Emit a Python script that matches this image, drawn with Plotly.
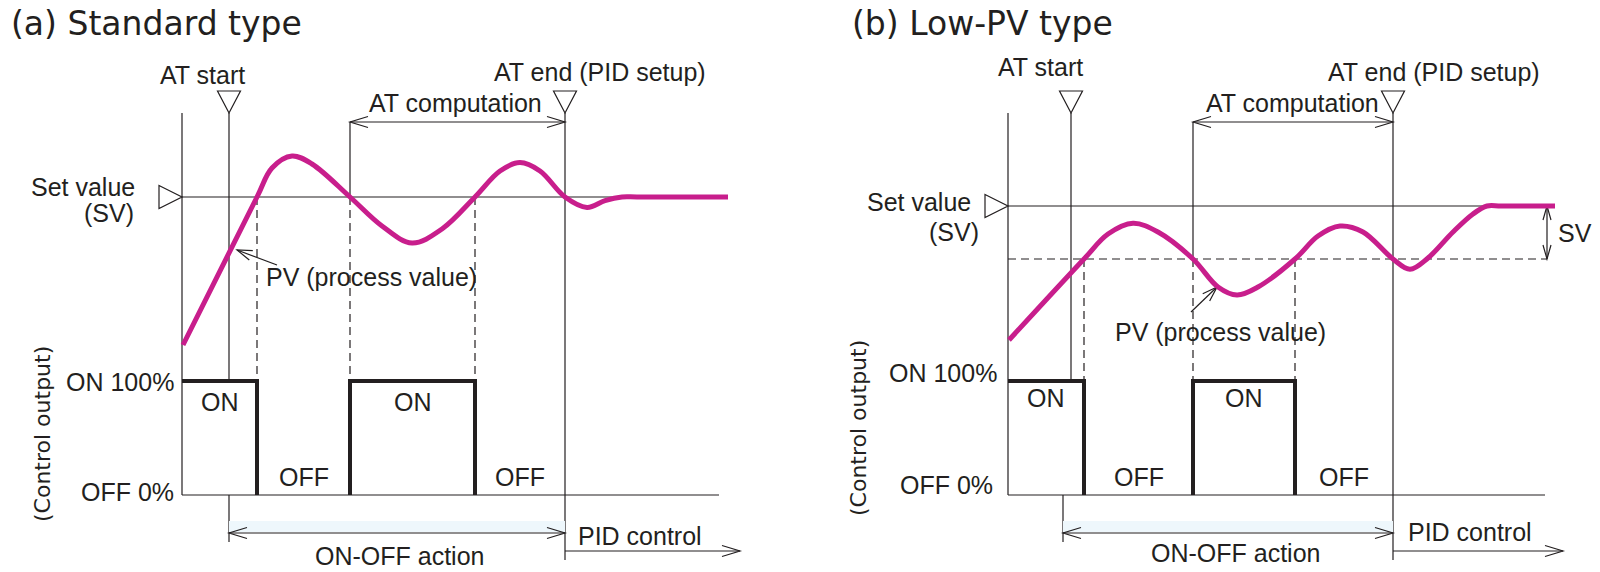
import plotly.graph_objects as go

# ---------------- DATA (time in s, PV in units with SV = 100, output in %) ----------------
SV = 100.0
SV_LOW_OFFSET = 26.5          # (b) low-PV offset below SV
OUT_ON, OUT_OFF = 100, 0

# (a) Standard type
a_pv_t = [0.1, 7.5, 9.0, 11.0, 13.0, 16.8, 20.0, 23.0, 26.0, 29.3, 31.8, 33.8, 35.8, 38.3,
          40.5, 42.3, 44.0, 45.5, 54.6]
a_pv_v = [26.0, 100.0, 114.5, 120.5, 116.5, 100.0, 85.5, 77.0, 84.0, 100.0, 113.0, 117.2, 113.0, 100.0,
          94.8, 98.2, 100.0, 100.0, 100.0]
a_at_start = 4.7
a_at_comp_start = 16.8
a_at_end = 38.3
a_switch_t = [7.5, 16.8, 29.3]
a_on_start = [0.0, 16.8]
a_on_end = [7.5, 29.3]
a_t_end = 54.6

# (b) Low-PV type
b_pv_t = [0.1, 7.6, 10.0, 12.5, 15.0, 18.5, 21.0, 22.9, 25.0, 28.7, 31.0, 33.2, 35.5, 38.5,
          40.2, 42.0, 44.5, 46.5, 47.9, 49.3, 54.7]
b_pv_v = [33.0, 73.5, 86.0, 91.4, 87.0, 73.5, 59.5, 55.5, 59.5, 73.5, 85.0, 90.0, 87.0, 73.5,
          68.4, 74.0, 87.0, 96.0, 100.0, 100.0, 100.0]
b_at_start = 6.3
b_at_comp_start = 18.5
b_at_end = 38.5
b_switch_t = [7.6, 18.5, 28.7]
b_on_start = [0.0, 18.5]
b_on_end = [7.6, 28.7]
b_t_end = 54.7

# ---------------- LAYOUT / STYLE ----------------
W, H = 1600, 572
PXS = 10.0        # px per second
PPU = 2.0         # px per PV unit
INK = "#231f20"
MAG = "#c81e8c"
LABEL_FONT = "Liberation Sans, Arial, sans-serif"
TITLE_FONT = "DejaVu Sans, sans-serif"
THIN = 1.2

panels = [
    dict(key="a", xa="x", ypv="y", yout="y2", x0=182, sv_px=197, on_px=381, off_px=495,
         pv_t=a_pv_t, pv_v=a_pv_v, at_start=a_at_start, comp=a_at_comp_start, at_end=a_at_end,
         switch=a_switch_t, on_s=a_on_start, on_e=a_on_end, t_end=a_t_end, low=False,
         base_end=53.7, pid_end=55.8, onoff_shift=0.0,
         title="(a) Standard type", title_x=9,
         atstart_txt=(202, 75), atend_txt=(600, 72), comp_txt=(456, 103),
         setv=(137, 187), sv_txt=(136, 213), pv_txt=(371, 277), ptr=((277, 265), (237, 250)),
         on_lbl=(176, 382), off_lbl=(176, 492), ctrl=(42, 434),
         onoff_txt=(399, 556), pid_txt=(640, 536), onlbl_y=402, offlbl_y=477),
    dict(key="b", xa="x2", ypv="y3", yout="y4", x0=1008, sv_px=206, on_px=381, off_px=495,
         pv_t=b_pv_t, pv_v=b_pv_v, at_start=b_at_start, comp=b_at_comp_start, at_end=b_at_end,
         switch=b_switch_t, on_s=b_on_start, on_e=b_on_end, t_end=b_t_end, low=True,
         base_end=53.7, pid_end=55.5, onoff_shift=-0.8, sv_arrow_t=53.9,
         title="(b) Low-PV type", title_x=850,
         atstart_txt=(1040, 67), atend_txt=(1434, 72), comp_txt=(1292, 103),
         setv=(973, 202), sv_txt=(981, 232), pv_txt=(1220, 332), ptr=((1191, 312), (1217, 287)),
         on_lbl=(999, 373), off_lbl=(995, 485), ctrl=(858, 428),
         onoff_txt=(1235, 553), pid_txt=(1470, 532), onlbl_y=398, offlbl_y=477,
         svd_txt=(1575, 233)),
]
TOP_PX, TRI_TOP, COMP_Y = 113, 91, 122
ONOFF_Y, ONOFF_BOT, END_BOT, PID_Y = 533, 542, 560, 551


def fy(p):
    return 1 - p / H


def line(xref, t0, p0, t1, p1, dash=None, width=THIN):
    return dict(type="line", xref=xref, yref="paper", x0=t0, y0=fy(p0), x1=t1, y1=fy(p1),
                line=dict(color=INK, width=width, dash=dash), layer="below")


def head(xref, tip_t, tip_p, ux, uy, L=18, hh=5.5):
    bx, by = -ux * L, -uy * L
    nx, ny = -uy * hh, ux * hh
    t1, p1 = tip_t + (bx + nx) / PXS, tip_p + by + ny
    t2, p2 = tip_t + (bx - nx) / PXS, tip_p + by - ny
    return dict(type="path", xref=xref, yref="paper",
                path=f"M{t1},{fy(p1)} L{tip_t},{fy(tip_p)} L{t2},{fy(p2)}",
                line=dict(color=INK, width=THIN), layer="below")


def ann(text, xp, yp, xanchor="center", size=25, family=LABEL_FONT, angle=0, xref="paper"):
    x = xp / W if xref == "paper" else xp
    return dict(text=text, x=x, y=fy(yp), xref=xref, yref="paper", xanchor=xanchor,
                yanchor="middle", showarrow=False, textangle=angle,
                font=dict(size=size, family=family, color=INK))


fig = go.Figure()
shapes, annotations = [], []
layout_axes = {}

for P in panels:
    xa, ypv, yout = P["xa"], P["ypv"], P["yout"]
    x0, svp, onp, offp = P["x0"], P["sv_px"], P["on_px"], P["off_px"]
    opx = (offp - onp) / (OUT_ON - OUT_OFF)
    level_px = svp + (SV_LOW_OFFSET * PPU if P["low"] else 0)

    # axes (hidden, used as scales)
    xname = "xaxis" if xa == "x" else "xaxis" + xa[1:]
    layout_axes[xname] = dict(range=[-x0 / PXS, (W - x0) / PXS], domain=[0, 1], visible=False,
                              fixedrange=True, **({} if xa == "x" else dict(overlaying="x")))
    for yn, rng in ((ypv, [SV - (H - svp) / PPU, SV + svp / PPU]),
                    (yout, [OUT_OFF - (H - offp) / opx, OUT_OFF + offp / opx])):
        yname = "yaxis" if yn == "y" else "yaxis" + yn[1:]
        layout_axes[yname] = dict(range=rng, domain=[0, 1], visible=False, fixedrange=True,
                                  **({} if yn == "y" else dict(overlaying="y")))

    # SV line, low line, baseline
    fig.add_trace(go.Scatter(x=[0, P["t_end"]], y=[SV, SV], xaxis=xa, yaxis=ypv, mode="lines",
                             line=dict(color=INK, width=THIN), hoverinfo="skip"))
    if P["low"]:
        fig.add_trace(go.Scatter(x=[0, P["sv_arrow_t"]], y=[SV - SV_LOW_OFFSET] * 2, xaxis=xa,
                                 yaxis=ypv, mode="lines",
                                 line=dict(color=INK, width=THIN, dash="8px,5px"), hoverinfo="skip"))
    fig.add_trace(go.Scatter(x=[0, P["base_end"]], y=[OUT_OFF, OUT_OFF], xaxis=xa, yaxis=yout,
                             mode="lines", line=dict(color=INK, width=THIN), hoverinfo="skip"))

    # control output (thick ON pulses)
    xs, ys = [], []
    for s, e in zip(P["on_s"], P["on_e"]):
        if s > 0:
            xs.append(s); ys.append(OUT_OFF)
        xs += [s, e, e, None]
        ys += [OUT_ON, OUT_ON, OUT_OFF, None]
    fig.add_trace(go.Scatter(x=xs, y=ys, xaxis=xa, yaxis=yout, mode="lines",
                             line=dict(color=INK, width=4), hoverinfo="skip"))

    # PV curve
    fig.add_trace(go.Scatter(x=P["pv_t"], y=P["pv_v"], xaxis=xa, yaxis=ypv, mode="lines",
                             line=dict(color=MAG, width=5, shape="spline", smoothing=1.0),
                             hoverinfo="skip"))

    # left axis
    shapes.append(line(xa, 0, TOP_PX, 0, offp))
    # AT start line (interrupted inside the ON block)
    shapes.append(line(xa, P["at_start"], TOP_PX, P["at_start"], onp))
    s0 = P["at_start"] + P["onoff_shift"]
    shapes.append(line(xa, s0, offp, s0, ONOFF_BOT))
    # AT end line
    shapes.append(line(xa, P["at_end"], TOP_PX, P["at_end"], END_BOT))
    # switching lines
    for t in P["switch"]:
        if t == P["comp"]:
            shapes.append(line(xa, t, COMP_Y, t, level_px))
        shapes.append(line(xa, t, level_px, t, onp, dash="8px,5px"))
    # AT computation arrow
    shapes.append(line(xa, P["comp"], COMP_Y, P["at_end"], COMP_Y))
    shapes.append(head(xa, P["comp"], COMP_Y, -1, 0))
    shapes.append(head(xa, P["at_end"], COMP_Y, 1, 0))
    # triangles
    for t in (P["at_start"], P["at_end"]):
        shapes.append(dict(type="path", xref=xa, yref="paper",
                           path=f"M{t - 1.15},{fy(TRI_TOP)} L{t + 1.15},{fy(TRI_TOP)} L{t},{fy(TOP_PX)} Z",
                           line=dict(color=INK, width=THIN), fillcolor="white", layer="below"))
    shapes.append(dict(type="path", xref=xa, yref="paper",
                       path=f"M-2.3,{fy(svp - 11.5)} L0,{fy(svp)} L-2.3,{fy(svp + 11.5)} Z",
                       line=dict(color=INK, width=THIN), fillcolor="white", layer="below"))
    # ON-OFF band + arrow
    shapes.append(dict(type="rect", xref=xa, yref="paper", x0=s0, x1=P["at_end"],
                       y0=fy(ONOFF_Y - 1), y1=fy(ONOFF_Y - 12), fillcolor="#eef7fc",
                       line=dict(width=0), layer="below"))
    shapes.append(line(xa, s0, ONOFF_Y, P["at_end"], ONOFF_Y))
    shapes.append(head(xa, s0, ONOFF_Y, -1, 0))
    shapes.append(head(xa, P["at_end"], ONOFF_Y, 1, 0))
    # PID control arrow
    shapes.append(line(xa, P["at_end"], PID_Y, P["pid_end"], PID_Y))
    shapes.append(head(xa, P["pid_end"], PID_Y, 1, 0))
    # PV pointer
    (fx_, fy_), (tx_, ty_) = P["ptr"]
    t_from, t_to = (fx_ - x0) / PXS, (tx_ - x0) / PXS
    shapes.append(line(xa, t_from, fy_, t_to, ty_))
    dx, dy = tx_ - fx_, ty_ - fy_
    n = (dx * dx + dy * dy) ** 0.5
    shapes.append(head(xa, t_to, ty_, dx / n, dy / n, L=15, hh=5))
    # SV delta arrow (b)
    if P["low"]:
        ta = P["sv_arrow_t"]
        shapes.append(line(xa, ta, svp, ta, level_px))
        shapes.append(head(xa, ta, svp, 0, -1, L=14, hh=4))
        shapes.append(head(xa, ta, level_px, 0, 1, L=14, hh=4))
        annotations.append(ann("SV", *P["svd_txt"]))

    # texts
    annotations.append(ann(P["title"], P["title_x"], 23, xanchor="left", size=33, family=TITLE_FONT))
    annotations.append(ann("AT start", *P["atstart_txt"]))
    annotations.append(ann("AT end (PID setup)", *P["atend_txt"]))
    annotations.append(ann("AT computation", *P["comp_txt"]))
    annotations.append(ann("Set value", *P["setv"], xanchor="right"))
    annotations.append(ann("(SV)", *P["sv_txt"], xanchor="right"))
    annotations.append(ann("PV (process value)", *P["pv_txt"]))
    annotations.append(ann("ON 100%", *P["on_lbl"], xanchor="right"))
    annotations.append(ann("OFF 0%", *P["off_lbl"], xanchor="right"))
    annotations.append(ann("(Control output)", *P["ctrl"], size=22, family=TITLE_FONT, angle=-90))
    annotations.append(ann("ON-OFF action", *P["onoff_txt"]))
    annotations.append(ann("PID control", *P["pid_txt"]))
    # ON / OFF labels at interval midpoints
    for s, e in zip(P["on_s"], P["on_e"]):
        annotations.append(ann("ON", (s + e) / 2, P["onlbl_y"], xref=xa))
    off_s = P["on_e"]
    off_e = P["on_s"][1:] + [P["at_end"]]
    for s, e in zip(off_s, off_e):
        annotations.append(ann("OFF", (s + e) / 2, P["offlbl_y"], xref=xa))

fig.update_layout(
    width=W, height=H, autosize=False,
    margin=dict(l=0, r=0, t=0, b=0, pad=0),
    paper_bgcolor="white", plot_bgcolor="white",
    showlegend=False, shapes=shapes, annotations=annotations,
    hovermode=False,
    **layout_axes,
)

fig.write_html(
    "out.html",
    config={"displayModeBar": False, "staticPlot": True},
    post_script="document.body.style.margin='0px';document.body.style.padding='0px';"
                "document.body.style.overflow='hidden';",
)
